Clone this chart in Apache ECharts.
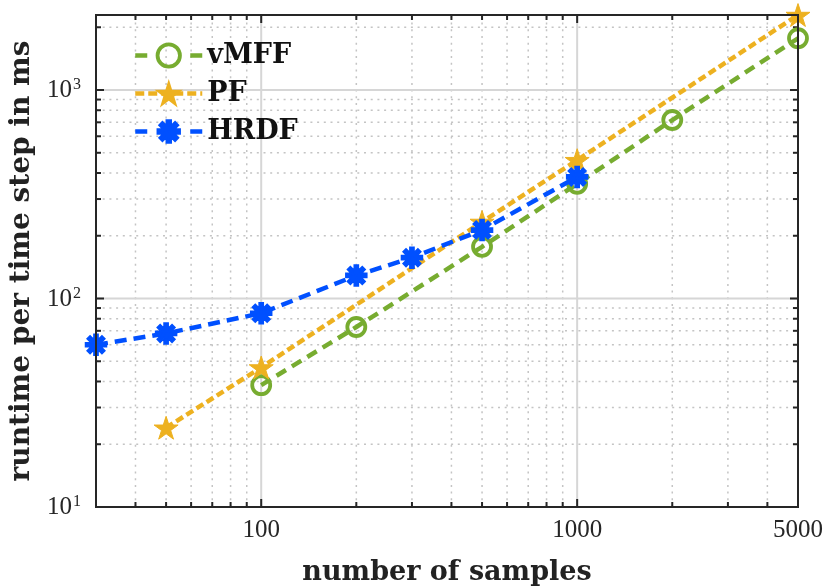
<!DOCTYPE html>
<html>
<head>
<meta charset="utf-8">
<script src="https://cdn.jsdelivr.net/npm/echarts@6/dist/echarts.min.js"></script>
<style>
html,body{margin:0;padding:0;background:#fff;}
#chart{width:827px;height:587px;}
</style>
</head>
<body>
<div id="chart"></div>
<script>
// ---- data ----
const vmffX = [100, 200, 500, 1000, 2000, 5000];
const vmffY = [38.4, 73, 177, 355, 718, 1771];
const pfX = [50, 100, 500, 1000, 5000];
const pfY = [24, 46.7, 233, 461, 2290];
const hrdfX = [30, 50, 100, 200, 300, 500, 1000];
const hrdfY = [60, 68, 85, 129, 157, 213, 383];

const xMin = 30, xMax = 5000;
const yMin = 10, yMax = 2290;
const xTickLabels = [100, 1000, 5000];
const yTickLabels = [10, 100, 1000];
const xMajor = [100, 1000];
const yMajor = [100, 1000];
const xMinor = [40, 50, 60, 70, 80, 90, 200, 300, 400, 500, 600, 700, 800, 900, 2000, 3000, 4000];
const yMinor = [20, 30, 40, 50, 60, 70, 80, 90, 200, 300, 400, 500, 600, 700, 800, 900, 2000];

const zip = (xs, ys) => xs.map((x, i) => [x, ys[i]]);

const STAR = 'path://M0 -100 L22.45 -30.9 L95.1 -30.9 L36.3 11.8 L58.8 80.9 L0 38.2 L-58.8 80.9 L-36.3 11.8 L-95.1 -30.9 L-22.45 -30.9 Z';
const AST = 'path://M-100 -20 L100 -20 L100 20 L-100 20 Z M-20 -100 L20 -100 L20 100 L-20 100 Z ' +
  'M-56.6 -84.9 L84.9 56.6 L56.6 84.9 L-84.9 -56.6 Z M-84.9 56.6 L56.6 -84.9 L84.9 -56.6 L-56.6 84.9 Z';

// grid/tick helper data: [x, y, orient(0=vertical line,1=horizontal), major]
const gridData = [];
xMinor.forEach(v => gridData.push([v, 100, 0, 0]));
yMinor.forEach(v => gridData.push([100, v, 1, 0]));
xMajor.forEach(v => gridData.push([v, 100, 0, 1]));
yMajor.forEach(v => gridData.push([100, v, 1, 1]));

const AX = '#262626';
const GREEN = '#77AC30', GOLD = '#EDB120', BLUE = '#0050FF';
const serif = '"Liberation Serif", "DejaVu Serif", serif';
const bold = '"DejaVu Serif", serif';

function renderGrid(params, api) {
  const orient = api.value(2), major = api.value(3);
  const children = [];
  const tl = major ? 8 : 5;
  const gridStyle = major
    ? { stroke: '#d6d6d6', lineWidth: 2 }
    : { stroke: '#c4c4c4', lineWidth: 1.5, lineDash: [2, 4.7] };
  if (orient === 0) {
    const v = api.value(0);
    const b = api.coord([v, yMin]);
    const t = api.coord([v, yMax]);
    children.push({ type: 'line', shape: { x1: b[0], y1: b[1], x2: t[0], y2: t[1] }, style: gridStyle, z2: major ? 2 : 1 });
    children.push({ type: 'line', shape: { x1: b[0], y1: b[1], x2: b[0], y2: b[1] - tl }, style: { stroke: AX, lineWidth: 2 }, z2: 5 });
    children.push({ type: 'line', shape: { x1: t[0], y1: t[1], x2: t[0], y2: t[1] + tl }, style: { stroke: AX, lineWidth: 2 }, z2: 5 });
  } else {
    const v = api.value(1);
    const l = api.coord([xMin, v]);
    const r = api.coord([xMax, v]);
    children.push({ type: 'line', shape: { x1: l[0], y1: l[1], x2: r[0], y2: r[1] }, style: gridStyle, z2: major ? 2 : 1 });
    children.push({ type: 'line', shape: { x1: l[0], y1: l[1], x2: l[0] + tl, y2: l[1] }, style: { stroke: AX, lineWidth: 2 }, z2: 5 });
    children.push({ type: 'line', shape: { x1: r[0], y1: r[1], x2: r[0] - tl, y2: r[1] }, style: { stroke: AX, lineWidth: 2 }, z2: 5 });
  }
  return { type: 'group', children };
}

const chart = echarts.init(document.getElementById('chart'), null, { renderer: 'canvas' });
chart.setOption({
  animation: false,
  backgroundColor: '#fff',
  grid: {
    left: 96, right: 29, top: 15, bottom: 80, containLabel: false, outerBoundsMode: 'none',
    show: true, borderColor: AX, borderWidth: 2, backgroundColor: 'transparent', z: 10
  },
  legend: {
    orient: 'vertical', left: 133, top: 40, padding: 0,
    itemWidth: 67, itemHeight: 28, itemGap: 7,
    textStyle: { fontFamily: bold, fontWeight: 'bold', fontSize: 27, color: '#111', lineHeight: 31 },
    data: [
      { name: 'vMFF', lineStyle: { type: [12, 43], width: 4.5 }, itemStyle: { borderWidth: 3.8 } },
      { name: 'PF', lineStyle: { type: [9, 4], width: 4.5 } },
      { name: 'HRDF', lineStyle: { type: [12, 43], width: 4.5 } }
    ]
  },
  xAxis: {
    type: 'log', logBase: 10, min: xMin, max: xMax,
    name: 'number of samples', nameLocation: 'middle', nameGap: 52,
    nameTextStyle: { fontFamily: bold, fontWeight: 'bold', fontSize: 27, color: '#222' },
    axisLine: { show: true, lineStyle: { color: AX, width: 2 } },
    axisTick: { show: false },
    splitLine: { show: false },
    axisLabel: {
      showMinLabel: true, showMaxLabel: true,
      fontFamily: serif, fontSize: 25, color: AX, margin: 11,
      formatter: v => { const r = Math.round(v); return xTickLabels.some(t => Math.abs(t - v) / t < 1e-6) ? String(r) : ''; }
    }
  },
  yAxis: {
    type: 'log', logBase: 10, min: yMin, max: yMax,
    name: 'runtime per time step in ms', nameLocation: 'middle', nameGap: 55,
    nameTextStyle: { fontFamily: bold, fontWeight: 'bold', fontSize: 28, color: '#222' },
    axisLine: { show: true, lineStyle: { color: AX, width: 2 } },
    axisTick: { show: false },
    splitLine: { show: false },
    axisLabel: {
      showMinLabel: true, showMaxLabel: true,
      margin: 15, color: AX,
      formatter: v => {
        const t = yTickLabels.find(t => Math.abs(t - v) / t < 1e-6);
        if (!t) return '';
        return '{b|10}{s|' + Math.round(Math.log10(t)) + '}';
      },
      rich: {
        b: { fontFamily: serif, fontSize: 25, color: AX, verticalAlign: 'bottom', lineHeight: 26 },
        s: { fontFamily: serif, fontSize: 16, color: AX, verticalAlign: 'bottom', lineHeight: 26, padding: [0, 0, 10, 1] }
      }
    }
  },
  series: [
    {
      type: 'custom', name: 'grid', renderItem: renderGrid, data: gridData, z: 1, silent: true, clip: false,
      encode: { x: 0, y: 1 }
    },
    {
      type: 'line', name: 'vMFF', data: zip(vmffX, vmffY), z: 3, clip: false,
      symbol: 'circle', symbolSize: 18,
      lineStyle: { color: GREEN, width: 4.5, type: [11, 7] },
      itemStyle: { color: 'rgba(255,255,255,0)', borderColor: GREEN, borderWidth: 3.8 }
    },
    {
      type: 'line', name: 'PF', data: zip(pfX, pfY), z: 4, clip: false,
      symbol: STAR, symbolSize: 24, symbolKeepAspect: true,
      lineStyle: { color: GOLD, width: 4.5, type: [8, 4] },
      itemStyle: { color: GOLD, borderColor: GOLD, borderWidth: 1 }
    },
    {
      type: 'line', name: 'HRDF', data: zip(hrdfX, hrdfY), z: 5, clip: false,
      symbol: AST, symbolSize: 21, symbolKeepAspect: true,
      lineStyle: { color: BLUE, width: 4.5, type: [12, 7] },
      itemStyle: { color: BLUE, borderColor: BLUE, borderWidth: 1.5 }
    }
  ]
});
</script>
</body>
</html>
